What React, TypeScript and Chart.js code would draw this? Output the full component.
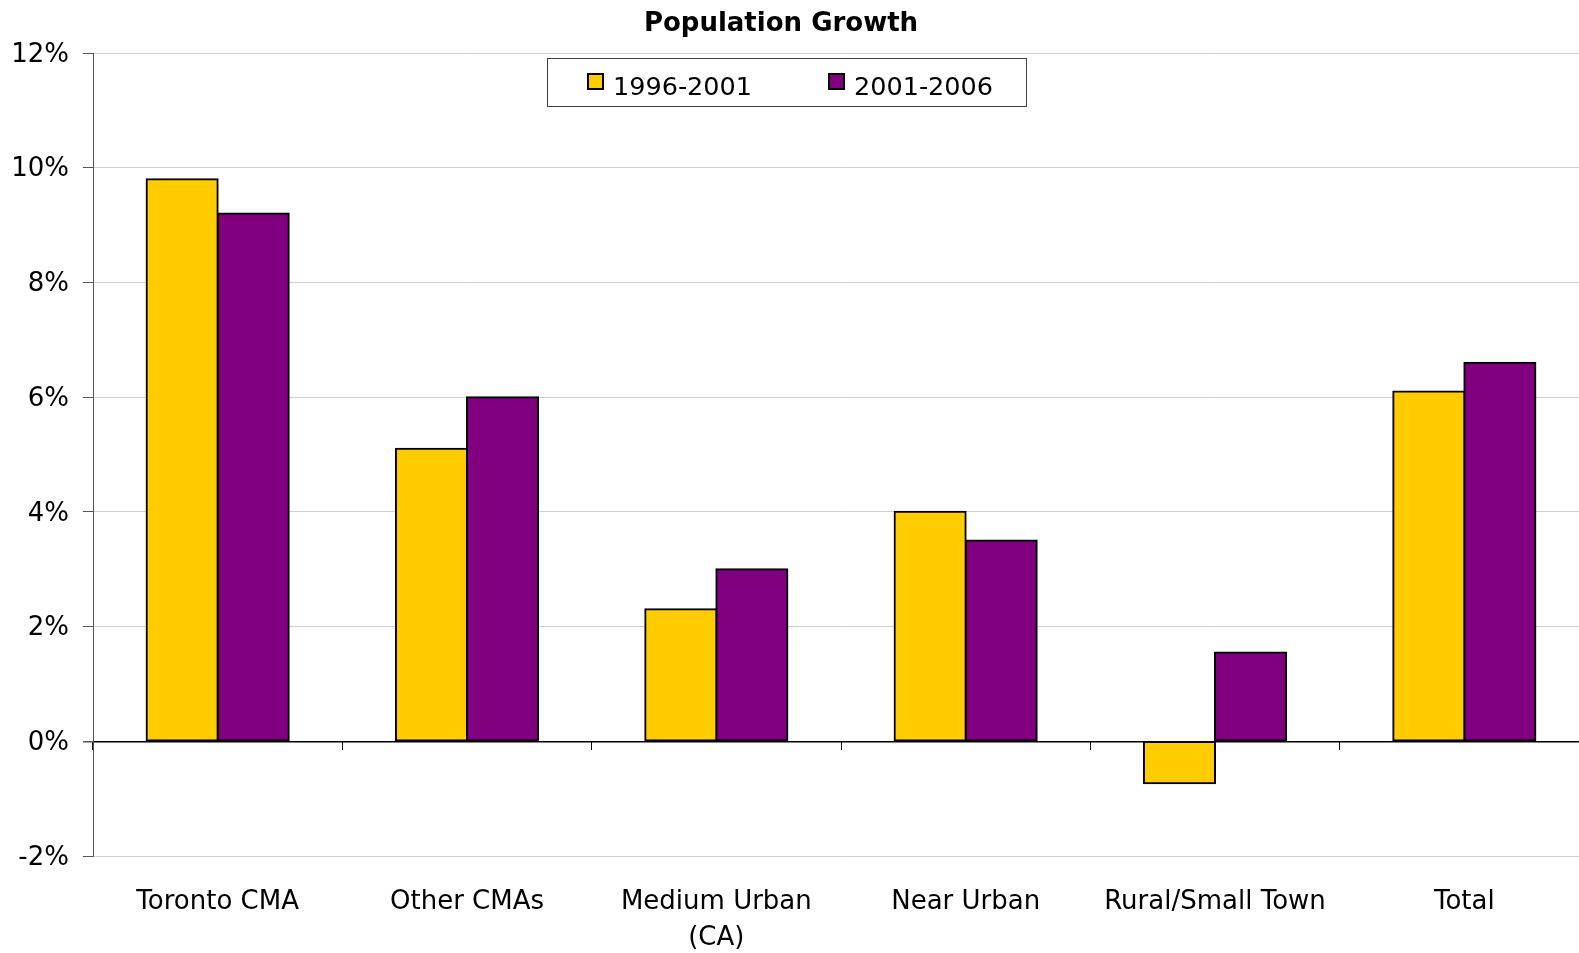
import React, { useEffect, useRef } from 'react';
import { Chart, registerables } from 'chart.js';

Chart.register(...registerables);

const chartTitle = 'Population Growth';
const categories: (string | string[])[] = [
  'Toronto CMA',
  'Other CMAs',
  ['Medium Urban', '(CA)'],
  'Near Urban',
  'Rural/Small Town',
  'Total',
];
const seriesNames = ['1996-2001', '2001-2006'];
const growth1996to2001 = [9.8, 5.1, 2.3, 4.0, -0.73, 6.1];
const growth2001to2006 = [9.2, 6.0, 3.0, 3.5, 1.55, 6.6];
const seriesColors = ['#FFCC00', '#800080'];
const yMin = -2;
const yMax = 12;
const yStep = 2;

const FONT = '"DejaVu Sans", Verdana, sans-serif';

const overlayPlugin = {
  id: 'overlay',
  afterDraw(chart: any) {
    const ctx = chart.ctx as CanvasRenderingContext2D;
    ctx.save();
    // title
    ctx.font = `bold 26px ${FONT}`;
    ctx.fillStyle = '#000';
    ctx.textAlign = 'center';
    ctx.textBaseline = 'alphabetic';
    ctx.fillText(chartTitle, 781, 31);
    // legend frame
    ctx.fillStyle = '#fff';
    ctx.fillRect(547, 58, 480, 49);
    ctx.strokeStyle = '#404040';
    ctx.lineWidth = 1;
    ctx.strokeRect(547.5, 58.5, 479, 48);
    const boxX = [587, 828];
    chart.data.datasets.forEach((ds: any, i: number) => {
      const bx = boxX[i];
      ctx.fillStyle = ds.backgroundColor;
      ctx.fillRect(bx, 73, 17, 17);
      ctx.strokeStyle = '#000';
      ctx.lineWidth = 2;
      ctx.strokeRect(bx + 1, 74, 15, 15);
      ctx.fillStyle = '#000';
      ctx.font = `25.5px ${FONT}`;
      ctx.textAlign = 'left';
      ctx.textBaseline = 'alphabetic';
      ctx.fillText(ds.label, bx + 26, 95);
    });
    ctx.restore();
  },
};

export default function App() {
  const ref = useRef<HTMLCanvasElement>(null);
  useEffect(() => {
    const barStyle = {
      borderColor: '#000',
      borderWidth: 2,
      borderSkipped: false,
      inflateAmount: 1,
      categoryPercentage: 0.57,
      barPercentage: 1,
    };
    const chart = new Chart(ref.current as HTMLCanvasElement, {
      type: 'bar',
      data: {
        labels: categories as any,
        datasets: [
          {
            label: seriesNames[0],
            data: growth1996to2001,
            backgroundColor: seriesColors[0],
            ...barStyle,
          },
          {
            label: seriesNames[1],
            data: growth2001to2006,
            backgroundColor: seriesColors[1],
            ...barStyle,
          },
        ],
      },
      options: {
        responsive: false,
        devicePixelRatio: 1,
        animation: false,
        layout: { padding: { top: 53, right: 11, left: 0, bottom: 0 } },
        plugins: {
          legend: { display: false },
          title: { display: false },
          tooltip: { enabled: false },
        },
        scales: {
          x: {
            type: 'category',
            position: 'bottom',
            offset: true,
            grid: { display: false },
            border: { display: false },
            ticks: {
              color: '#000',
              font: { family: FONT, size: 26, lineHeight: 1.4 },
              padding: 20,
              maxRotation: 0,
              autoSkip: false,
            },
            afterFit(scale: any) {
              scale.height = 97;
            },
          },
          x2: {
            type: 'category',
            labels: categories as any,
            position: { y: 0 } as any,
            offset: true,
            grid: {
              offset: true,
              drawOnChartArea: false,
              drawTicks: true,
              tickLength: 9,
              color: '#000',
              tickColor: '#000',
            },
            border: { display: false },
            ticks: { display: false },
            afterFit(scale: any) {
              scale.height = 0;
            },
          },
          y: {
            min: yMin,
            max: yMax,
            ticks: {
              stepSize: yStep,
              color: '#000',
              padding: 14,
              labelOffset: 2,
              font: { family: FONT, size: 26 },
              callback: (v: any) => `${v}%`,
            },
            grid: {
              color: (c: any) => (c.tick && c.tick.value === 0 ? '#000' : '#d0d0d0'),
              lineWidth: (c: any) => (c.tick && c.tick.value === 0 ? 1.5 : 1),
              tickColor: '#555',
              tickLength: 10,
            },
            border: { display: true, color: '#555', width: 1 },
            afterFit(scale: any) {
              scale.width = 93;
            },
          },
        },
      },
      plugins: [overlayPlugin],
    } as any);
    return () => chart.destroy();
  }, []);

  return (
    <div
      style={{
        position: 'absolute',
        left: 0,
        top: 0,
        width: 1579,
        height: 953,
        overflow: 'hidden',
        background: '#fff',
      }}
    >
      <canvas ref={ref} width={1600} height={953} style={{ display: 'block', width: 1600, height: 953 }} />
    </div>
  );
}
